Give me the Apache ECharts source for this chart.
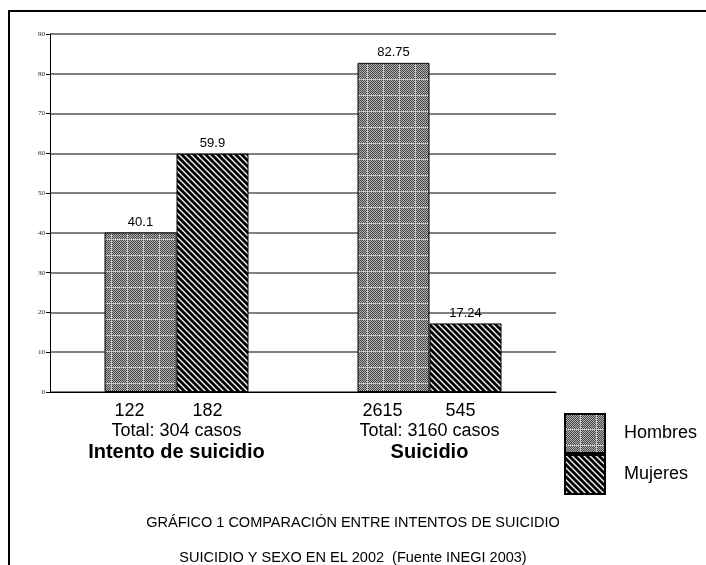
<!DOCTYPE html>
<html>
<head>
<meta charset="utf-8">
<title>Intento de suicidio y suicidio por sexo, 2002</title>
<script src="https://cdn.jsdelivr.net/npm/echarts@6/dist/echarts.min.js"></script>
<style>
  html, body { margin: 0; padding: 0; background: #fff; }
  #chart { width: 706px; height: 565px; }
</style>
</head>
<body>
<div id="chart"></div>
<script>
// Categories and values (percent of cases by sex, and absolute case counts)
const categories = ['Intento de suicidio', 'Suicidio'];
const seriesNames = ['Hombres', 'Mujeres'];
const hombresPct = [40.1, 82.75];
const mujeresPct = [59.9, 17.24];
const hombresCasos = [122, 2615];
const mujeresCasos = [182, 545];
const yTicks = [0, 10, 20, 30, 40, 50, 60, 70, 80, 90];

const SANS = "'Liberation Sans', Arial, Helvetica, sans-serif";
const SERIF = "'Liberation Serif', 'Times New Roman', serif";

// Fine checkered fill with a faint dotted grid, for the men's bars
function checkerPattern() {
  const c = document.createElement('canvas');
  c.width = 16; c.height = 16;
  const ctx = c.getContext('2d');
  for (let y = 0; y < 16; y++) {
    for (let x = 0; x < 16; x++) {
      let col = ((x + y) % 2 === 0) ? '#484848' : '#b0b0b0';
      if ((x === 15 || y === 15) && (x + y) % 2 === 0) col = '#e0e0e0';
      ctx.fillStyle = col;
      ctx.fillRect(x, y, 1, 1);
    }
  }
  return c;
}

// Diagonal black/white stripes, for the women's bars
function stripePattern() {
  const c = document.createElement('canvas');
  const n = 6;
  c.width = n; c.height = n;
  const ctx = c.getContext('2d');
  const shades = ['#f4f4f4', '#9a9a9a', '#000000', '#000000', '#000000', '#5a5a5a'];
  for (let y = 0; y < n; y++) {
    for (let x = 0; x < n; x++) {
      const d = ((x - y) % n + n) % n;
      ctx.fillStyle = shades[d];
      ctx.fillRect(x, y, 1, 1);
    }
  }
  return c;
}

const chart = echarts.init(document.getElementById('chart'), null, { renderer: 'canvas' });

const valueLabel = {
  show: true,
  position: 'top',
  distance: 4,
  color: '#000',
  fontFamily: SANS,
  fontSize: 13
};

chart.setOption({
  animation: false,
  backgroundColor: '#fff',
  textStyle: { fontFamily: SANS },
  graphic: [{
    type: 'rect',
    silent: true,
    shape: { x: 9, y: 11, width: 800, height: 700 },
    style: { fill: 'none', stroke: '#000', lineWidth: 2 }
  }],
  title: {
    text: 'GRÁFICO 1 COMPARACIÓN ENTRE INTENTOS DE SUICIDIO\nSUICIDIO Y SEXO EN EL 2002  (Fuente INEGI 2003)',
    left: 'center',
    top: 505,
    padding: 0,
    textStyle: {
      fontFamily: SANS,
      fontSize: 14.5,
      fontWeight: 'normal',
      color: '#000',
      lineHeight: 35,
      align: 'center'
    }
  },
  legend: {
    orient: 'vertical',
    left: 564,
    top: 413,
    padding: 0,
    itemWidth: 40,
    itemHeight: 39,
    itemGap: 0,
    icon: 'rect',
    data: seriesNames,
    textStyle: {
      fontFamily: SANS,
      fontSize: 18,
      color: '#000',
      padding: [0, 0, 0, 14]
    }
  },
  grid: { left: 50, right: 150, top: 34, bottom: 173, containLabel: false },
  xAxis: {
    type: 'category',
    data: categories,
    boundaryGap: true,
    axisLine: { show: true, lineStyle: { color: '#000', width: 1 } },
    axisTick: { show: false },
    splitLine: { show: false },
    axisLabel: {
      interval: 0,
      margin: 9,
      color: '#000',
      formatter: function (value, idx) {
        const total = hombresCasos[idx] + mujeresCasos[idx];
        return '{h|' + hombresCasos[idx] + '}{m|' + mujeresCasos[idx] + '}\n' +
               '{t|Total: ' + total + ' casos}\n' +
               '{b|' + value + '}';
      },
      rich: {
        h: { width: 62, fontSize: 18, lineHeight: 20, fontFamily: SANS, color: '#000' },
        m: { width: 94, fontSize: 18, lineHeight: 20, fontFamily: SANS, color: '#000' },
        t: { fontSize: 18, lineHeight: 20, fontFamily: SANS, color: '#000' },
        b: { fontSize: 20, lineHeight: 22, fontWeight: 'bold', fontFamily: SANS, color: '#000' }
      }
    }
  },
  yAxis: {
    type: 'value',
    min: yTicks[0],
    max: yTicks[yTicks.length - 1],
    interval: 10,
    axisLine: { show: true, lineStyle: { color: '#000', width: 1 } },
    axisTick: { show: true, length: 4, lineStyle: { color: '#000' } },
    axisLabel: { margin: 5, fontFamily: SERIF, fontSize: 7, color: '#222' },
    splitLine: { show: true, lineStyle: { color: '#808080', width: 2 } }
  },
  series: [
    {
      name: seriesNames[0],
      type: 'bar',
      data: hombresPct,
      barWidth: 72,
      barGap: '0%',
      itemStyle: {
        color: { image: checkerPattern(), repeat: 'repeat' },
        borderColor: '#000',
        borderWidth: 1
      },
      label: valueLabel
    },
    {
      name: seriesNames[1],
      type: 'bar',
      data: mujeresPct,
      barWidth: 72,
      barGap: '0%',
      itemStyle: {
        color: { image: stripePattern(), repeat: 'repeat' },
        borderColor: '#000',
        borderWidth: 1
      },
      label: valueLabel
    }
  ]
});
</script>
</body>
</html>
